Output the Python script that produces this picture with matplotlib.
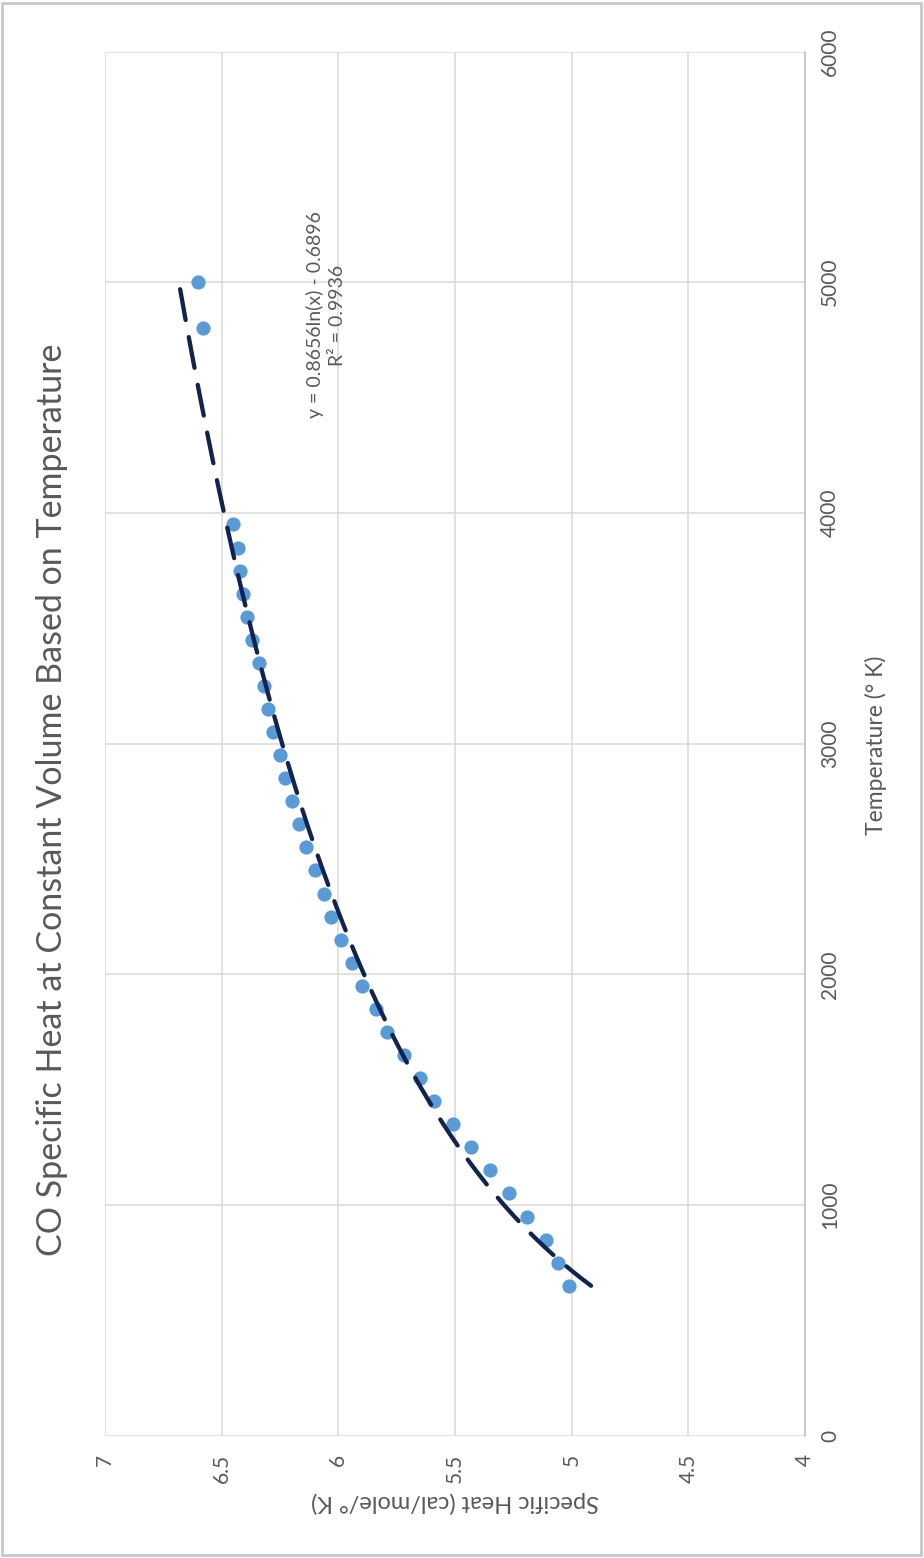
import matplotlib
matplotlib.use("Agg")
import matplotlib.pyplot as plt
import numpy as np
from matplotlib.patches import Rectangle

plt.rcParams["font.family"] = ["Lato", "DejaVu Sans"]

# Measured specific heat of CO at constant volume
temperature_k = [650, 750, 850, 950, 1050, 1150, 1250, 1350, 1450, 1550,
                 1650, 1750, 1850, 1950, 2050, 2150, 2250, 2350, 2450, 2550,
                 2650, 2750, 2850, 2950, 3050, 3150, 3250, 3350, 3450, 3550,
                 3650, 3750, 3850, 3950, 4800, 5000]
specific_heat = [5.01, 5.06, 5.11, 5.19, 5.27, 5.35, 5.43, 5.51, 5.59, 5.65,
                 5.72, 5.79, 5.84, 5.90, 5.94, 5.99, 6.03, 6.06, 6.10, 6.14,
                 6.17, 6.20, 6.23, 6.25, 6.28, 6.30, 6.32, 6.34, 6.37, 6.39,
                 6.41, 6.42, 6.43, 6.45, 6.58, 6.60]

# Logarithmic trendline coefficients
fit_a = 0.8656
fit_b = -0.6896
fit_r2 = 0.9936

heat_ticks = [4, 4.5, 5, 5.5, 6, 6.5, 7]
heat_tick_labels = ["4", "4.5", "5", "5.5", "6", "6.5", "7"]
temp_ticks = [0, 1000, 2000, 3000, 4000, 5000, 6000]
temp_tick_labels = ["0", "1000", "2000", "3000", "4000", "5000", "6000"]

title = "CO Specific Heat at Constant Volume Based on Temperature"
temp_label = "Temperature (° K)"
heat_label = "Specific Heat (cal/mole/° K)"

text_gray = "#595959"
grid_gray = "#D9D9D9"

W, H = 924, 1558
fig = plt.figure(figsize=(W / 100, H / 100), dpi=100)
fig.patch.set_facecolor("white")

# chart frame
fig.add_artist(Rectangle((2 / W, 3 / H), (W - 5) / W, (H - 6) / H,
                         transform=fig.transFigure, fill=False,
                         edgecolor="#C8C8C8", linewidth=2.0))

left, right = 104.9, 805.0
top, bottom = 51.5, 1435.7
ax = fig.add_axes([left / W, 1 - bottom / H, (right - left) / W, (bottom - top) / H])

# scatter of the measurements
ax.scatter(specific_heat, temperature_k, s=105, color="#5B9BD5",
           linewidths=0, zorder=3)

# trendline over the data range
t_fit = np.linspace(min(temperature_k), max(temperature_k), 300)
cv_fit = fit_a * np.log(t_fit) + fit_b
lw = 3.1
ax.plot(cv_fit, t_fit, color="#12234F", linewidth=lw,
        linestyle=(0, (22.5 / lw, 12.5 / lw)), dash_capstyle="round",
        solid_capstyle="round", zorder=4)

ax.set_xlim(7, 4)
ax.set_ylim(0, 6000)
ax.set_xticks(heat_ticks)
ax.set_xticklabels(heat_tick_labels)
ax.set_yticks(temp_ticks)
ax.set_yticklabels(temp_tick_labels)
ax.yaxis.tick_right()

ax.grid(True, color=grid_gray, linewidth=1.1, zorder=0)
ax.set_axisbelow(True)
for name, sp in ax.spines.items():
    sp.set_visible(name == "right")
ax.spines["right"].set_color("#BFBFBF")
ax.spines["right"].set_linewidth(1.1)

ax.tick_params(axis="x", length=0, pad=13, labelsize=15, labelcolor=text_gray,
               labelrotation=90)
ax.tick_params(axis="y", length=0, pad=11, labelsize=15, labelcolor=text_gray,
               labelrotation=90)
for lab in ax.get_xticklabels():
    lab.set_ha("center")
    lab.set_va("top")
for lab in ax.get_yticklabels():
    lab.set_ha("left")
    lab.set_va("center")

# trendline equation
ax.text(0.3158, 0.8096,
        f"y = {fit_a:.4f}ln(x) - {abs(fit_b):.4f}\nR² = {fit_r2:.4f}",
        transform=ax.transAxes, rotation=90, ha="center", va="center",
        multialignment="center", fontsize=14, color=text_gray, linespacing=1.4)

# titles
fig.text(52 / W, 1 - 800 / H, title, rotation=90, ha="center", va="center",
         fontsize=24.5, color=text_gray)
fig.text(876 / W, 1 - 745 / H, temp_label, rotation=90, ha="center",
         va="center", fontsize=16.5, color=text_gray)
fig.text(455 / W, 1 - 1502 / H, heat_label, rotation=180, ha="center",
         va="center", fontsize=17, color=text_gray)

fig.savefig("out.png", dpi=100, facecolor="white")
